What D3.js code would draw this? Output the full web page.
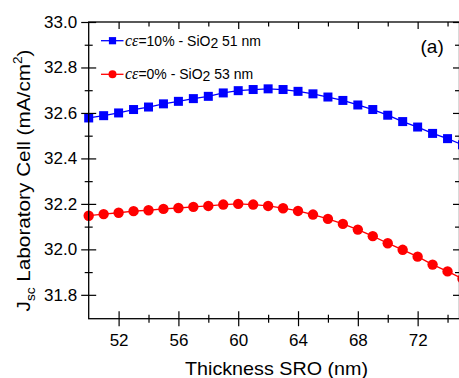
<!DOCTYPE html>
<html><head><meta charset="utf-8">
<script src="https://cdn.jsdelivr.net/npm/d3@7"></script>
<style>
html,body{margin:0;padding:0;background:#fff;overflow:hidden;}
svg{display:block;font-family:"Liberation Sans",Arial,sans-serif;}
</style></head>
<body>
<svg id="chart" width="470" height="378"></svg>
<script>
const thickness = [50,51,52,53,54,55,56,57,58,59,60,61,62,63,64,65,66,67,68,69,70,71,72,73,74,75];
const jscCe10 = [32.578,32.588,32.600,32.615,32.626,32.640,32.651,32.663,32.673,32.688,32.698,32.703,32.706,32.703,32.695,32.684,32.670,32.655,32.635,32.615,32.590,32.562,32.538,32.510,32.487,32.460];
const jscCe0 = [32.148,32.155,32.161,32.168,32.172,32.178,32.182,32.187,32.191,32.197,32.200,32.197,32.191,32.181,32.169,32.153,32.134,32.112,32.087,32.058,32.027,31.998,31.968,31.933,31.903,31.871];
const xMajorTicks = [52,56,60,64,68,72];
const xMinorTicks = [54,58,62,66,70,74];
const yMajorTicks = [31.8,32.0,32.2,32.4,32.6,32.8,33.0];
const yMinorTicks = [31.9,32.1,32.3,32.5,32.7,32.9];
const legendLabels = [{pre:"cε", mid:"=10% - SiO", sub:"2", post:" 51 nm"},{pre:"cε", mid:"=0% - SiO", sub:"2", post:" 53 nm"}];

const svg = d3.select("#chart");
const L = 88.7, R = 459.5, T = 22, B = 318.7;
const x = d3.scaleLinear().domain([50, 74.8]).range([L, R]);
const y = d3.scaleLinear().domain([31.695, 33.0]).range([B, T]);

function drawSeries(vals, color, shape){
  const pts = thickness.map((t,i)=>[t, vals[i]]);
  svg.append("path").datum(pts)
    .attr("fill","none").attr("stroke",color).attr("stroke-width",1.3)
    .attr("d", d3.line().x(d=>x(d[0])).y(d=>y(d[1])));
  if(shape==="square"){
    svg.selectAll(null).data(pts).enter().append("rect")
      .attr("x",d=>x(d[0])-4.5).attr("y",d=>y(d[1])-4.5)
      .attr("width",9).attr("height",9).attr("fill",color);
  } else {
    svg.selectAll(null).data(pts).enter().append("circle")
      .attr("cx",d=>x(d[0])).attr("cy",d=>y(d[1])).attr("r",5.2).attr("fill",color);
  }
}
drawSeries(jscCe10, "#0000ff", "square");
drawSeries(jscCe0, "#ff0000", "circle");

const axisColor = "#000";
function styleAxis(g){
  g.select(".domain").remove();
  g.selectAll("line").attr("stroke",axisColor).attr("stroke-width",1.2);
}
const gb = svg.append("g").attr("transform",`translate(0,${B})`)
  .call(d3.axisBottom(x).tickValues(xMajorTicks).tickFormat(d3.format("d")).tickSize(7.5).tickPadding(8));
styleAxis(gb);
gb.selectAll(".tick line").attr("y1",-7.5);
gb.selectAll("text").attr("font-size","17px").attr("fill","#000").attr("font-family","Liberation Sans, Arial, sans-serif");
const gbm = svg.append("g").attr("transform",`translate(0,${B})`)
  .call(d3.axisBottom(x).tickValues(xMinorTicks).tickFormat("").tickSize(4));
styleAxis(gbm); gbm.selectAll(".tick line").attr("y1",-4);

const gt = svg.append("g").attr("transform",`translate(0,${T})`)
  .call(d3.axisTop(x).tickValues(xMajorTicks).tickFormat("").tickSize(-7));
styleAxis(gt);
const gtm = svg.append("g").attr("transform",`translate(0,${T})`)
  .call(d3.axisTop(x).tickValues(xMinorTicks).tickFormat("").tickSize(-4.5));
styleAxis(gtm);

const gl = svg.append("g").attr("transform",`translate(${L},0)`)
  .call(d3.axisLeft(y).tickValues(yMajorTicks).tickFormat(d3.format(".1f")).tickSize(7.5).tickPadding(4));
styleAxis(gl);
gl.selectAll(".tick line").attr("x1",7.5);
gl.selectAll("text").attr("font-size","17px").attr("fill","#000").attr("font-family","Liberation Sans, Arial, sans-serif");
const glm = svg.append("g").attr("transform",`translate(${L},0)`)
  .call(d3.axisLeft(y).tickValues(yMinorTicks).tickFormat("").tickSize(4));
styleAxis(glm); glm.selectAll(".tick line").attr("x1",4);

const gr = svg.append("g").attr("transform",`translate(${R},0)`)
  .call(d3.axisRight(y).tickValues(yMajorTicks).tickFormat("").tickSize(-6.5));
styleAxis(gr);
const grm = svg.append("g").attr("transform",`translate(${R},0)`)
  .call(d3.axisRight(y).tickValues(yMinorTicks).tickFormat("").tickSize(-4.5));
styleAxis(grm);

svg.append("rect").attr("x",L).attr("y",T).attr("width",R-L).attr("height",B-T)
  .attr("fill","none").attr("stroke",axisColor).attr("stroke-width",1.3);

svg.append("text").attr("x",(185+368)/2).attr("y",374.5).attr("text-anchor","middle")
  .attr("font-size","19px").attr("fill","#000")
  .attr("textLength",183).attr("lengthAdjust","spacingAndGlyphs")
  .text("Thickness SRO (nm)");

const yl = svg.append("text").attr("transform","translate(29.5,180.5) rotate(-90)")
  .attr("text-anchor","middle").attr("font-size","19px").attr("fill","#000")
  .attr("textLength",262).attr("lengthAdjust","spacingAndGlyphs");
yl.append("tspan").text("J");
yl.append("tspan").attr("font-size","12.5px").attr("dy",5).text("sc");
yl.append("tspan").attr("dy",-5).text(" Laboratory Cell (mA/cm");
yl.append("tspan").attr("font-size","12.5px").attr("dy",-8).text("2");
yl.append("tspan").attr("dy",8).text(")");

const legendY = [40.7, 74.3];
const legendColors = ["#0000ff","#ff0000"];
legendLabels.forEach((lab,i)=>{
  const ly = legendY[i];
  svg.append("line").attr("x1",101).attr("x2",123.5).attr("y1",ly).attr("y2",ly)
    .attr("stroke",legendColors[i]).attr("stroke-width",1.3);
  if(i===0){
    svg.append("rect").attr("x",112.5-3.6).attr("y",ly-3.6).attr("width",7.2).attr("height",7.2).attr("fill",legendColors[i]);
  } else {
    svg.append("circle").attr("cx",112.5).attr("cy",ly).attr("r",4).attr("fill",legendColors[i]);
  }
  const t = svg.append("text").attr("x",125).attr("y",ly+5).attr("font-size","14px").attr("fill","#000");
  t.append("tspan").attr("font-family","Liberation Serif, serif").attr("font-style","italic").attr("font-size","16px").text(lab.pre);
  t.append("tspan").text(lab.mid);
  t.append("tspan").attr("dy",2).text(lab.sub);
  t.append("tspan").attr("dy",-2).text(lab.post);
});

svg.append("text").attr("x",420.5).attr("y",52.5).attr("font-size","19px").attr("fill","#000").text("(a)");
</script>
</body></html>
